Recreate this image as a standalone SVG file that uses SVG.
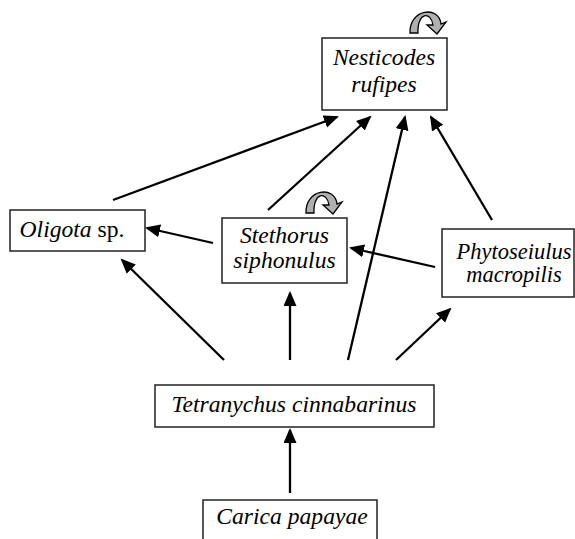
<svg xmlns="http://www.w3.org/2000/svg" xmlns:xlink="http://www.w3.org/1999/xlink" width="575" height="539" viewBox="0 0 575 539">
<style>
.box{fill:#fff;stroke:#222;stroke-width:1.5}
.edge{stroke:#000;stroke-width:2.3;fill:none;marker-end:url(#ah)}
.loop{fill:#b0b0b0;stroke:#000;stroke-width:1.3;stroke-linejoin:miter}
</style>
<defs>
<marker id="ah" markerUnits="userSpaceOnUse" markerWidth="16" markerHeight="14" refX="13" refY="6.5" orient="auto">
<path d="M0,0 L15,6.5 L0,13 z" fill="#000"/>
</marker>
<path id="selfloop" d="M410,33 C409,9 439,5 441,24 L446,22 L437,34 L427,25 L433,25 C431,11 417,12 418,33 Z"/>
</defs>
<rect width="575" height="539" fill="#fff"/>
<g id="edges">
<line class="edge" x1="290" y1="493" x2="290" y2="430"/>
<line class="edge" x1="224" y1="360" x2="122" y2="260"/>
<line class="edge" x1="290" y1="360" x2="290" y2="293"/>
<line class="edge" x1="348" y1="360" x2="405" y2="117"/>
<line class="edge" x1="396" y1="360" x2="450" y2="309"/>
<line class="edge" x1="213" y1="243" x2="147" y2="228"/>
<line class="edge" x1="435" y1="267" x2="351" y2="248"/>
<line class="edge" x1="113" y1="200" x2="337" y2="117"/>
<line class="edge" x1="268" y1="210" x2="370" y2="117"/>
<line class="edge" x1="492" y1="220" x2="431" y2="117"/>
</g>
<g font-family="Liberation Serif, Times New Roman, DejaVu Serif, serif" font-size="23.6" font-style="italic" text-anchor="middle" fill="#000">
<g id="nesticodes">
<rect class="box" x="322" y="38" width="125" height="72"/>
<text x="384" y="65">Nesticodes</text>
<text x="384" y="92">rufipes</text>
<use xlink:href="#selfloop" class="loop"/>
</g>
<g id="stethorus">
<rect class="box" x="222" y="218" width="125" height="65"/>
<text x="284.5" y="243">Stethorus</text>
<text x="284.5" y="268">siphonulus</text>
<use xlink:href="#selfloop" class="loop" transform="translate(-104,180)"/>
</g>
<g id="oligota">
<rect class="box" x="10" y="210" width="135" height="41"/>
<text x="72" y="237">Oligota<tspan font-style="normal"> sp.</tspan></text>
</g>
<g id="phytoseiulus">
<rect class="box" x="442" y="229" width="132" height="68"/>
<text x="514" y="259" font-size="22.5">Phytoseiulus</text>
<text x="514" y="282" font-size="22.5">macropilis</text>
</g>
<g id="tetranychus">
<rect class="box" x="155" y="385" width="279" height="42"/>
<text x="294" y="412">Tetranychus cinnabarinus</text>
</g>
<g id="carica">
<rect class="box" x="203" y="500" width="174" height="45"/>
<text x="292" y="524">Carica papayae</text>
</g>
</g>
</svg>
